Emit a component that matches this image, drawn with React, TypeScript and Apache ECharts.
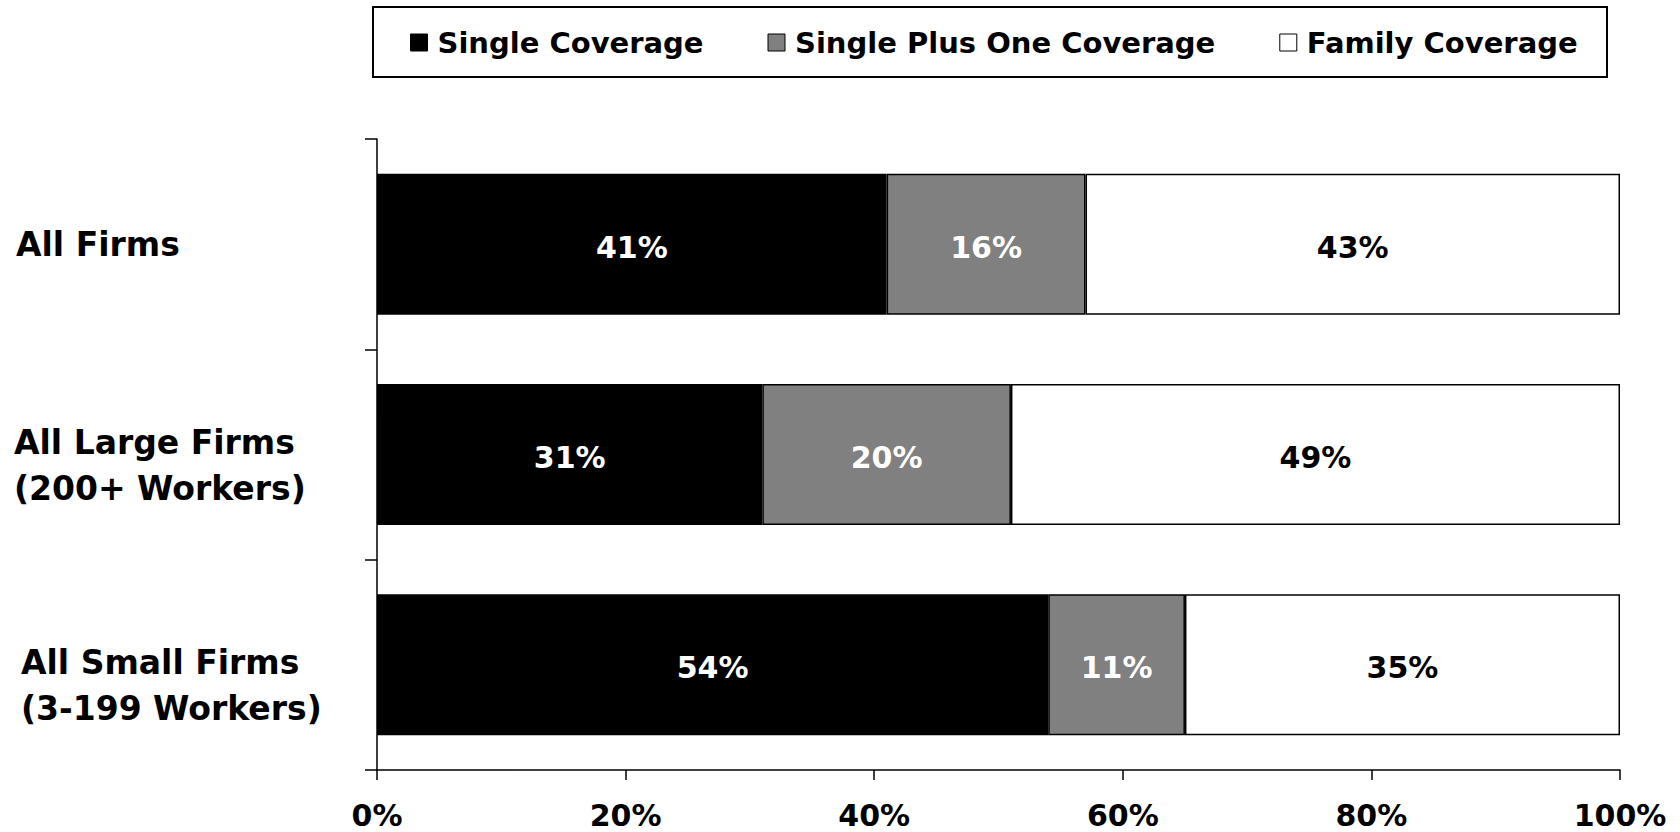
import React, { useEffect, useRef } from "react";
import * as echarts from "echarts";

// Share of covered workers by coverage tier, by firm size
const categories = [
  "All Firms",
  "All Large Firms\n(200+ Workers)",
  "All Small Firms\n(3-199 Workers)",
];
const singleCoverage = [41, 31, 54];
const singlePlusOne = [16, 20, 11];
const familyCoverage = [43, 49, 35];
const seriesNames = ["Single Coverage", "Single Plus One Coverage", "Family Coverage"];
const xTicks = { min: 0, max: 100, interval: 20 };

const FONT = "'DejaVu Sans', Verdana, sans-serif";

export default function App() {
  const ref = useRef<HTMLDivElement>(null);

  useEffect(() => {
    if (!ref.current) return;
    const chart = echarts.init(ref.current, null, { renderer: "svg" });

    // rich-text style per category label: a leading spacer line pushes
    // the block down, and an optional left indent
    const labelStyleKeys = ["c0", "c1", "c2"];
    const spacerKeys = ["", "g1", "g2"];

    const labelFont = {
      fontFamily: FONT,
      fontWeight: "bold",
      fontSize: 33,
      lineHeight: 46,
      color: "#000",
    };

    const barLabel = (color: string) => ({
      show: true,
      position: "inside",
      offset: [0, 3],
      formatter: "{c}%",
      color,
      fontFamily: FONT,
      fontWeight: "bold",
      fontSize: 30,
    });

    const colors = ["#000000", "#808080", "#ffffff"];
    const values = [singleCoverage, singlePlusOne, familyCoverage];
    const labelColors = ["#ffffff", "#ffffff", "#000000"];

    chart.setOption({
      animation: false,
      backgroundColor: "#ffffff",
      graphic: [
        {
          type: "rect",
          shape: { x: 373, y: 7, width: 1234, height: 70 },
          style: { fill: "none", stroke: "#000", lineWidth: 2 },
        },
      ],
      legend: {
        left: 410,
        top: 28,
        itemWidth: 17,
        itemHeight: 17,
        itemGap: 64,
        icon: "rect",
        padding: 0,
        selectedMode: false,
        textStyle: {
          fontFamily: FONT,
          fontWeight: "bold",
          fontSize: 29,
          color: "#000",
          padding: [0, 0, 0, 5],
        },
        data: seriesNames.map((name, i) => ({
          name,
          itemStyle: { color: colors[i], borderColor: "#000", borderWidth: 1 },
        })),
      },
      grid: {
        left: 377,
        right: 60,
        top: 139,
        bottom: 62,
        containLabel: false,
        outerBoundsMode: "none",
      },
      xAxis: {
        type: "value",
        min: xTicks.min,
        max: xTicks.max,
        interval: xTicks.interval,
        splitLine: { show: false },
        axisLine: { show: true, lineStyle: { color: "#000", width: 1.5 } },
        axisTick: { show: true, length: 10, lineStyle: { color: "#000", width: 1.5 } },
        axisLabel: {
          formatter: "{value}%",
          fontFamily: FONT,
          fontWeight: "bold",
          fontSize: 30,
          lineHeight: 22,
          color: "#000",
          margin: 34,
        },
      },
      yAxis: {
        type: "category",
        inverse: true,
        data: categories,
        axisLine: { show: true, lineStyle: { color: "#000", width: 1.5 } },
        axisTick: { show: true, length: 12, lineStyle: { color: "#000", width: 1.5 } },
        axisLabel: {
          align: "left",
          margin: 363,
          ...labelFont,
          formatter: (value: string, index: number) => {
            const key = labelStyleKeys[index];
            const lines = value.split("\n").map((l) => `{${key}|${l}}`);
            const spacer = spacerKeys[index];
            return (spacer ? `{${spacer}| }\n` : "") + lines.join("\n");
          },
          rich: {
            c0: { ...labelFont, padding: [0, 0, 0, 2] },
            c1: { ...labelFont },
            c2: { ...labelFont, padding: [0, 0, 0, 7] },
            g1: { fontSize: 2, lineHeight: 22 },
            g2: { fontSize: 2, lineHeight: 41 },
          },
        },
      },
      series: seriesNames.map((name, i) => ({
        name,
        type: "bar",
        stack: "total",
        barCategoryGap: "33%",
        data: values[i],
        itemStyle: { color: colors[i], borderColor: "#000", borderWidth: 1.5 },
        label: barLabel(labelColors[i]),
        emphasis: { disabled: true },
      })),
    });

    return () => chart.dispose();
  }, []);

  return (
    <div
      ref={ref}
      style={{ position: "fixed", left: 0, top: 0, width: 1680, height: 832, background: "#fff" }}
    />
  );
}
